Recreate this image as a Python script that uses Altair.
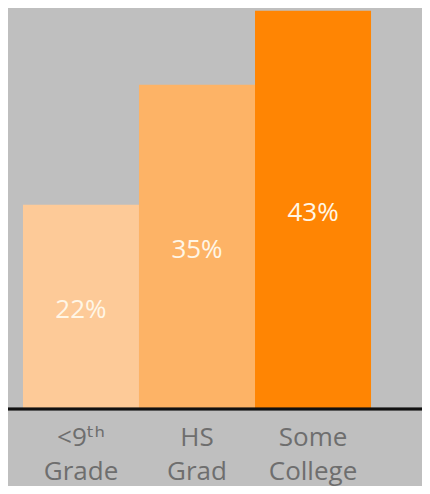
import altair as alt
import pandas as pd

categories = ["<9ᵗʰ|Grade", "HS|Grad", "Some|College"]
values = [22, 35, 43]
labels = ["22%", "35%", "43%"]
colors = ["#fdca98", "#fdb366", "#ff8503"]

df = pd.DataFrame({"cat": categories, "val": values, "lab": labels})

x = alt.X("cat:N", sort=categories,
          scale=alt.Scale(paddingInner=0, paddingOuter=0.129),
          axis=alt.Axis(title=None, domain=False, ticks=False, labelAngle=0,
                        labelExpr="split(datum.label, '|')",
                        labelFont="Open Sans, DejaVu Sans", labelFontSize=26,
                        labelColor="#6e6e6e", labelPadding=16,
                        labelLineHeight=34))
y = alt.Y("val:Q", scale=alt.Scale(domain=[0, 43.3], nice=False, zero=True), axis=None)

bars = alt.Chart(df).mark_bar().encode(
    x=x, y=y,
    color=alt.Color("cat:N", sort=categories,
                    scale=alt.Scale(domain=categories, range=colors), legend=None),
)

text = alt.Chart(df).transform_calculate(mid="datum.val / 2").mark_text(
    font="Open Sans", fontSize=26, color="#fff6e6", baseline="middle", dy=4
).encode(
    x=alt.X("cat:N", sort=categories),
    y=alt.Y("mid:Q", scale=alt.Scale(domain=[0, 43.3], nice=False, zero=True)),
    text="lab:N",
)

base = alt.Chart(df).mark_rule(color="#111111", strokeWidth=2.5).encode(
    x=alt.value(0), x2=alt.value(414), y=alt.value(401)
)

chart = alt.layer(bars, text, base).properties(
    width=378, height=400,
    autosize=alt.AutoSizeParams(type="none"),
    padding={"left": 0, "top": 0, "right": 36, "bottom": 78},
    background="#bfbfbf",
).configure_view(stroke=None)

chart.save("out.html", embed_options={"renderer": "svg", "actions": False})
